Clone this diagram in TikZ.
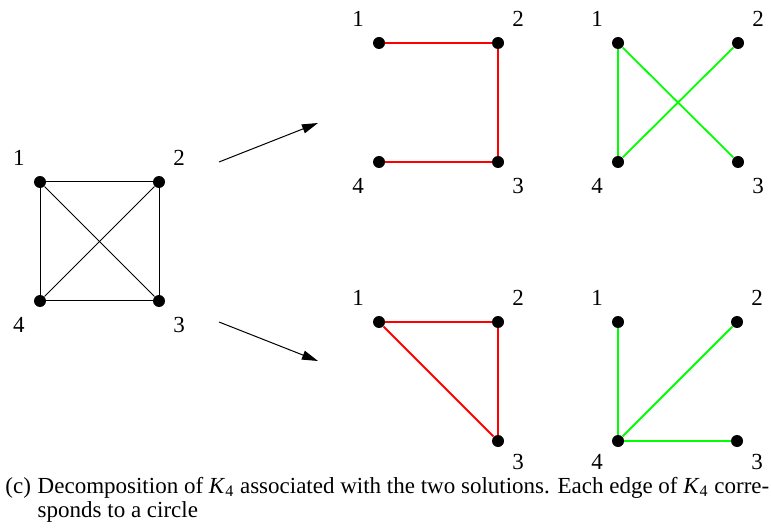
\documentclass[tikz,border=0pt]{standalone}
\usepackage{fontspec}
\setmainfont{Liberation Serif}
\usetikzlibrary{arrows.meta,calc}
\definecolor{cycred}{RGB}{255,0,0}
\definecolor{cycgreen}{RGB}{0,255,0}

\begin{document}
\begin{tikzpicture}[x=0.5pt,y=-0.5pt,vtx/.style={circle,fill=black,inner sep=0pt,minimum size=6pt},lbl/.style={inner sep=0pt,font=\fontsize{11.5}{12}\selectfont},caption/.style={lbl,anchor=base west,text height=7pt,text depth=2pt},edge/.style={line width=0.5pt},redge/.style={line width=0.9pt,cycred},gedge/.style={line width=0.9pt,cycgreen},map/.style={-{Triangle[length=8pt,width=4.6pt]},line width=0.5pt}]
\useasboundingbox (0,0) rectangle (771,529);
% complete graph K4
\node[vtx] (l1) at (40,182) {}; \node[vtx] (l2) at (159,182) {};
\node[vtx] (l3) at (159,301) {}; \node[vtx] (l4) at (40,301) {};
\node[lbl] (l1t) at ($(l1)+(-21,-24)$) {1}; \node[lbl] (l2t) at ($(l2)+(20,-24)$) {2};
\node[lbl] (l3t) at ($(l3)+(20,24)$) {3}; \node[lbl] (l4t) at ($(l4)+(-21,24)$) {4};
\draw[edge] (l1)--(l2); \draw[edge] (l2)--(l3); \draw[edge] (l3)--(l4);
\draw[edge] (l4)--(l1); \draw[edge] (l1)--(l3); \draw[edge] (l2)--(l4);
% first solution, red cycle
\node[vtx] (a1) at (379,43) {}; \node[vtx] (a2) at (498,43) {};
\node[vtx] (a3) at (498,162) {}; \node[vtx] (a4) at (379,162) {};
\node[lbl] (a1t) at ($(a1)+(-21,-24)$) {1}; \node[lbl] (a2t) at ($(a2)+(20,-24)$) {2};
\node[lbl] (a3t) at ($(a3)+(20,24)$) {3}; \node[lbl] (a4t) at ($(a4)+(-21,24)$) {4};
\draw[redge] (a1)--(a2); \draw[redge] (a2)--(a3); \draw[redge] (a3)--(a4);
% first solution, green cycle
\node[vtx] (b1) at (618,43) {}; \node[vtx] (b2) at (738,43) {};
\node[vtx] (b3) at (738,162) {}; \node[vtx] (b4) at (618,162) {};
\node[lbl] (b1t) at ($(b1)+(-21,-24)$) {1}; \node[lbl] (b2t) at ($(b2)+(20,-24)$) {2};
\node[lbl] (b3t) at ($(b3)+(20,24)$) {3}; \node[lbl] (b4t) at ($(b4)+(-21,24)$) {4};
\draw[gedge] (b1)--(b4); \draw[gedge] (b1)--(b3); \draw[gedge] (b4)--(b2);
% second solution, red cycle
\node[vtx] (c1) at (379,322) {}; \node[vtx] (c2) at (498,322) {};
\node[vtx] (c3) at (498,441) {};
\node[lbl] (c1t) at ($(c1)+(-21,-24)$) {1}; \node[lbl] (c2t) at ($(c2)+(20,-24)$) {2};
\node[lbl] (c3t) at ($(c3)+(20,21)$) {3};
\draw[redge] (c1)--(c2); \draw[redge] (c2)--(c3); \draw[redge] (c3)--(c1);
% second solution, green cycle
\node[vtx] (d1) at (618,322) {}; \node[vtx] (d2) at (737,322) {};
\node[vtx] (d3) at (737,441) {}; \node[vtx] (d4) at (618,441) {};
\node[lbl] (d1t) at ($(d1)+(-21,-24)$) {1}; \node[lbl] (d2t) at ($(d2)+(20,-24)$) {2};
\node[lbl] (d3t) at ($(d3)+(20,21)$) {3}; \node[lbl] (d4t) at ($(d4)+(-21,21)$) {4};
\draw[gedge] (d1)--(d4); \draw[gedge] (d4)--(d2); \draw[gedge] (d4)--(d3);
% arrows
\coordinate (up0) at (219,162); \coordinate (up1) at (318,123);
\coordinate (dn0) at (219,322); \coordinate (dn1) at (318,361);
\draw[map] (up0)--(up1); \draw[map] (dn0)--(dn1);
% caption
\node[caption] (capc) at (5,493) {(c)};
\node[caption] (cap1) at ($(capc.base east)+(6,0)$) {Decomposition of \textit{K}\textsubscript{4} associated with the two solutions. Each edge of \textit{K}\textsubscript{4} corre-};
\node[caption] (cap2) at ($(cap1.base west)+(0,24)$) {sponds to a circle};
\end{tikzpicture}
\end{document}
